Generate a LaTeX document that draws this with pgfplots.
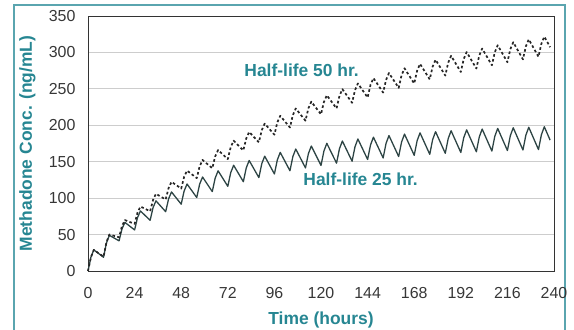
\documentclass[border=0pt]{standalone}
\usepackage{pgfplots}
\pgfplotsset{compat=1.18}
\usepackage{fontspec}
\setmainfont{Liberation Sans}
\definecolor{tealtxt}{RGB}{38,134,146}
\definecolor{framec}{RGB}{90,165,175}
\definecolor{solidc}{RGB}{45,68,68}
\definecolor{gridc}{RGB}{205,205,205}
\definecolor{tickc}{RGB}{55,55,55}
\begin{document}
\begin{tikzpicture}[x=1bp,y=1bp]
\useasboundingbox (0,0) rectangle (574,329);
\draw[framec, line width=1.6bp] (14,-10) -- (14,324) -- (565,324) -- (565,-10);
\begin{axis}[
  at={(88bp,58bp)}, anchor=south west,
  scale only axis, width=466bp, height=255bp,
  xmin=0, xmax=240, ymin=0, ymax=350,
  xtick={0,24,...,240}, ytick={0,50,...,350},
  ymajorgrids, grid style={gridc, line width=0.8bp},
  major tick length=0pt,
  axis line style={black!80, line width=1bp},
  /pgf/number format/assume math mode=true,
  tick label style={font=\fontsize{16}{18}\selectfont, text=tickc},
  yticklabel style={xshift=-9bp},
  xticklabel style={yshift=-13bp},
  xlabel={Time (hours)}, ylabel={Methadone Conc. (ng/mL)},
  every axis x label/.style={at={(axis description cs:0.5,-0.192)}, anchor=center,
    font=\bfseries\fontsize{17.5}{20}\selectfont, text=tealtxt},
  every axis y label/.style={at={(axis description cs:-0.13,0.5)}, rotate=90, anchor=center,
    font=\bfseries\fontsize{17.5}{20}\selectfont, text=tealtxt},
  clip=false,
]
\addplot[solidc, line width=1.3bp, line join=round] table {
t c
0 0
1.5 18.9
3 29.0
8 18.9
9.5 38.5
11 49.0
16 41.4
17.5 57.8
19 66.7
24 56.4
25.5 73.3
27 82.4
32 69.6
33.5 87.0
35 96.3
40 81.4
41.5 99.0
43 108.5
48 91.7
49.5 109.7
51 119.4
56 100.9
57.5 119.2
59 129.0
64 109.0
65.5 127.5
67 137.5
72 116.2
73.5 135.0
75 145.1
80 122.6
81.5 141.5
83 151.7
88 128.2
89.5 147.3
91 157.6
96 133.2
97.5 152.4
99 162.8
104 137.6
105.5 157.0
107 167.4
112 141.5
113.5 161.0
115 171.5
120 144.9
121.5 164.6
123 175.2
128 148.0
129.5 167.8
131 178.4
136 150.7
137.5 170.5
139 181.2
144 153.1
145.5 173.0
147 183.7
152 155.2
153.5 175.2
155 185.9
160 157.1
161.5 177.1
163 187.9
168 158.8
169.5 178.8
171 189.6
176 160.2
177.5 180.4
179 191.2
184 161.6
185.5 181.7
187 192.5
192 162.7
193.5 182.9
195 193.7
200 163.7
201.5 183.9
203 194.8
208 164.6
209.5 184.8
211 195.7
216 165.4
217.5 185.7
219 196.6
224 166.1
225.5 186.4
227 197.3
232 166.7
233.5 187.0
235 198.0
238 179.6
};
\addplot[black!85, line width=1.7bp, dash pattern=on 2.6bp off 2.4bp, line join=round] table {
t c
0 0
1.5 18.9
3 29.0
8 19.7
9.5 39.5
11 50.1
16 46.3
17.5 61.6
19 69.9
24 64.7
25.5 80.2
27 88.5
32 81.9
33.5 97.6
35 106.0
40 98.1
41.5 113.9
43 122.4
48 113.2
49.5 129.2
51 137.8
56 127.5
57.5 143.7
59 152.4
64 141.0
65.5 157.3
67 166.0
72 153.6
73.5 170.0
75 178.9
80 165.5
81.5 182.0
83 190.9
88 176.6
89.5 193.3
91 202.3
96 187.1
97.5 203.9
99 213.0
104 197.0
105.5 213.9
107 223.0
112 206.3
113.5 223.3
115 232.4
120 215.0
121.5 232.0
123 241.2
128 223.1
129.5 240.3
131 249.6
136 230.9
137.5 248.1
139 257.4
144 238.1
145.5 255.5
147 264.8
152 244.9
153.5 262.3
155 271.7
160 251.3
161.5 268.8
163 278.2
168 257.3
169.5 274.9
171 284.3
176 263.0
177.5 280.6
179 290.0
184 268.3
185.5 285.9
187 295.4
192 273.2
193.5 290.9
195 300.5
200 278.0
201.5 295.7
203 305.3
208 282.4
209.5 300.2
211 309.8
216 286.6
217.5 304.4
219 314.0
224 290.5
225.5 308.3
227 317.9
232 294.1
233.5 312.0
235 321.7
238 307.2
};
\node[font=\bfseries\fontsize{17.5}{20}\selectfont, text=tealtxt] at (axis cs:110,275) {Half-life 50 hr.};
\node[font=\bfseries\fontsize{17.5}{20}\selectfont, text=tealtxt] at (axis cs:140.4,126) {Half-life 25 hr.};
\end{axis}
\end{tikzpicture}
\end{document}
